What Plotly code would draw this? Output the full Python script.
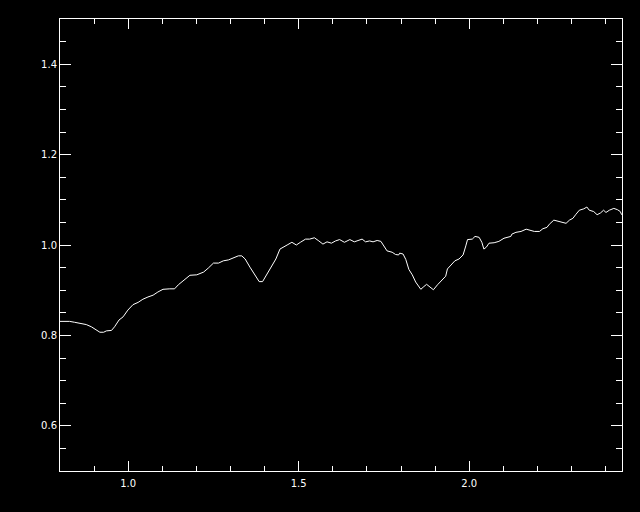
import plotly.graph_objects as go

wavelength = [0.799, 0.828, 0.843, 0.858, 0.877, 0.892, 0.905, 0.917, 0.928, 0.936,
              0.951, 0.960, 0.973, 0.985, 0.999, 1.014, 1.029, 1.043, 1.058, 1.073,
              1.087, 1.102, 1.122, 1.136, 1.147, 1.167, 1.181, 1.201, 1.221, 1.235,
              1.250, 1.265, 1.279, 1.294, 1.309, 1.323, 1.333, 1.343, 1.357, 1.372,
              1.384, 1.394, 1.406, 1.421, 1.433, 1.445, 1.455, 1.466, 1.480, 1.493,
              1.505, 1.520, 1.532, 1.546, 1.559, 1.571, 1.583, 1.596, 1.608, 1.620,
              1.634, 1.650, 1.663, 1.679, 1.686, 1.696, 1.708, 1.718, 1.730, 1.741,
              1.749, 1.759, 1.774, 1.784, 1.793, 1.796, 1.806, 1.814, 1.823, 1.833,
              1.843, 1.858, 1.867, 1.875, 1.885, 1.895, 1.907, 1.921, 1.931, 1.936,
              1.946, 1.958, 1.970, 1.982, 1.990, 1.995, 2.009, 2.017, 2.029, 2.037,
              2.043, 2.050, 2.058, 2.073, 2.087, 2.102, 2.122, 2.125, 2.137, 2.152,
              2.167, 2.179, 2.191, 2.206, 2.216, 2.228, 2.235, 2.248, 2.260, 2.271,
              2.284, 2.294, 2.304, 2.313, 2.323, 2.336, 2.345, 2.352, 2.365, 2.375,
              2.385, 2.394, 2.401, 2.411, 2.424, 2.435, 2.443, 2.447]
reflectance = [0.831, 0.831, 0.829, 0.827, 0.824, 0.819, 0.812, 0.807, 0.807, 0.810,
               0.811, 0.819, 0.834, 0.841, 0.856, 0.868, 0.873, 0.880, 0.885, 0.889,
               0.896, 0.902, 0.903, 0.903, 0.912, 0.924, 0.933, 0.934, 0.940, 0.949,
               0.960, 0.960, 0.965, 0.967, 0.971, 0.976, 0.976, 0.969, 0.951, 0.934,
               0.919, 0.919, 0.934, 0.951, 0.969, 0.991, 0.996, 1.000, 1.006, 1.000,
               1.006, 1.013, 1.013, 1.016, 1.009, 1.002, 1.007, 1.004, 1.009, 1.012,
               1.006, 1.012, 1.007, 1.010, 1.013, 1.007, 1.009, 1.007, 1.010, 1.008,
               0.998, 0.987, 0.984, 0.979, 0.978, 0.982, 0.980, 0.968, 0.946, 0.934,
               0.918, 0.902, 0.908, 0.913, 0.907, 0.901, 0.912, 0.922, 0.931, 0.947,
               0.955, 0.965, 0.969, 0.978, 0.998, 1.012, 1.013, 1.019, 1.017, 1.006,
               0.991, 0.995, 1.004, 1.005, 1.008, 1.015, 1.019, 1.024, 1.028, 1.030,
               1.035, 1.033, 1.030, 1.030, 1.036, 1.039, 1.046, 1.055, 1.053, 1.051,
               1.048, 1.055, 1.059, 1.068, 1.077, 1.080, 1.084, 1.077, 1.074, 1.067,
               1.071, 1.077, 1.072, 1.077, 1.081, 1.078, 1.074, 1.067]

x_tickvals = [1.0, 1.5, 2.0]
x_ticktext = ["1.0", "1.5", "2.0"]
y_tickvals = [0.6, 0.8, 1.0, 1.2, 1.4]
y_ticktext = ["0.6", "0.8", "1.0", "1.2", "1.4"]

fig = go.Figure()
fig.add_trace(go.Scatter(x=wavelength, y=reflectance, mode="lines",
                         line=dict(color="white", width=1), showlegend=False,
                         hoverinfo="skip"))

axis_common = dict(showgrid=False, zeroline=False, showline=True, linecolor="white",
                   linewidth=1, mirror="allticks", ticks="inside", tickcolor="white",
                   tickwidth=1, tickfont=dict(family="DejaVu Sans", size=10, color="white"))

fig.update_xaxes(range=[0.8, 2.448], tickmode="array", tickvals=x_tickvals,
                 ticktext=x_ticktext, ticklen=10, ticklabelstandoff=3,
                 minor=dict(dtick=0.1, tick0=0.8, ticklen=5, ticks="inside",
                            tickcolor="white", tickwidth=1, showgrid=False),
                 **axis_common)
fig.update_yaxes(range=[0.5, 1.5], tickmode="array", tickvals=y_tickvals,
                 ticktext=y_ticktext, ticklen=11,
                 minor=dict(dtick=0.05, tick0=0.5, ticklen=6, ticks="inside",
                            tickcolor="white", tickwidth=1, showgrid=False),
                 **axis_common)

fig.update_layout(width=640, height=512, paper_bgcolor="black", plot_bgcolor="black",
                  margin=dict(l=60, r=18, t=19, b=41))

fig.write_html("out.html", config={"displayModeBar": False},
               post_script="document.body.style.margin='0';document.body.style.background='black';")
